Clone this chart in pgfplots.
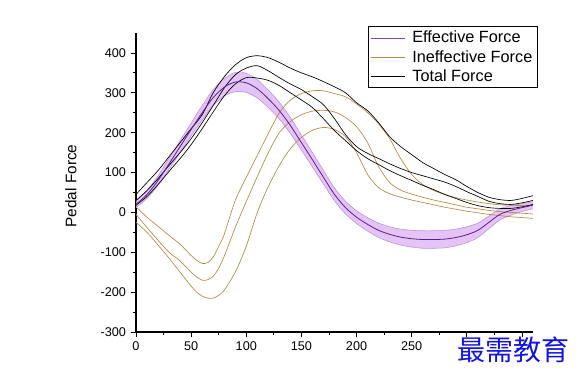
\documentclass[border=0pt]{standalone}
\usepackage{fontspec}
\setmainfont{Liberation Sans}
\newfontfamily\cjk{Noto Sans CJK SC}
\usepackage{pgfplots}
\pgfplotsset{compat=1.18}
\usepackage{pgfplotstable}

\definecolor{effline}{HTML}{5B1F8E}
\definecolor{effleg}{HTML}{8A3FC0}
\definecolor{effband}{HTML}{D9B0F0}
\definecolor{effedge}{HTML}{C28BE6}
\definecolor{ineff}{HTML}{B38A45}
\definecolor{wm}{HTML}{1414E0}

% Effective force: x, lower, mean, upper
\pgfplotstableread{
x elo emid ehi
0 12 20 28
10 35 45 55
20 68 80 92
30 108 122 136
40 150 165 180
50 192 208 224
60 232 250 268
70 268 288 308
80 292 314 336
90 303 327 351
100 301 325 349
110 287 310 333
120 263 285 307
130 234 255 276
140 198 218 238
150 156 175 194
160 114 132 150
170 71 88 105
180 29 45 61
190 -4 12 28
200 -28 -12 4
210 -47 -30 -13
220 -63 -45 -27
230 -74 -55 -36
240 -82 -62 -42
250 -87 -66 -45
260 -90 -68 -46
270 -90 -68 -46
280 -89 -67 -45
290 -84 -63 -42
300 -76 -56 -36
310 -63 -45 -27
320 -41 -25 -9
330 -19 -5 9
340 -7 5 17
350 2 12 22
360 9 18 27
}\efftable

% Effective band outline: upper edge forward, lower edge backward
\pgfplotstableread{
x y
0 28
10 55
20 92
30 136
40 180
50 224
60 268
70 308
80 336
90 351
100 349
110 333
120 307
130 276
140 238
150 194
160 150
170 105
180 61
190 28
200 4
210 -13
220 -27
230 -36
240 -42
250 -45
260 -46
270 -46
280 -45
290 -42
300 -36
310 -27
320 -9
330 9
340 17
350 22
360 27
360 9
350 2
340 -7
330 -19
320 -41
310 -63
300 -76
290 -84
280 -89
270 -90
260 -90
250 -87
240 -82
230 -74
220 -63
210 -47
200 -28
190 -4
180 29
170 71
160 114
150 156
140 198
130 234
120 263
110 287
100 301
90 303
80 292
70 268
60 232
50 192
40 150
30 108
20 68
10 35
0 12
}\bandtable

% Ineffective force: x, lower, mean, upper
\pgfplotstableread{
x ilo imid ihi
0 -25 -5 14
10 -50 -38 -12
20 -82 -70 -35
30 -115 -100 -58
40 -150 -122 -80
50 -185 -150 -108
55 -200 -162 -120
60 -210 -170 -128
65 -215 -169 -126
70 -215 -160 -112
75 -208 -140 -85
80 -195 -110 -55
90 -150 -38 30
100 -85 27 88
110 0 90 143
120 65 150 198
130 118 200 250
140 160 228 282
150 188 245 298
160 206 254 305
170 213 256 305
180 208 252 298
190 190 238 290
200 150 215 272
210 95 175 250
220 62 115 222
230 47 75 185
240 38 56 135
250 31 46 95
260 25 38 70
270 19 31 55
280 13 25 45
290 8 19 37
300 3 13 31
310 -1 9 26
320 -5 5 22
330 -8 2 19
340 -11 0 18
350 -13 -2 17
360 -15 -4 17
}\inefftable

% Total force: x, lower, mean, upper
\pgfplotstableread{
x tlo tmid thi
0 18 30 45
10 40 55 75
20 70 85 105
30 103 118 140
40 135 150 175
50 170 185 210
60 210 225 245
70 252 268 300
80 292 312 340
90 322 345 370
100 338 362 388
110 337 368 393
120 331 355 388
130 318 338 376
140 300 322 362
150 282 308 350
160 263 290 340
170 235 270 328
180 205 235 315
190 180 195 300
200 155 165 275
210 135 148 255
220 120 135 225
230 105 122 190
240 92 110 165
250 80 100 145
260 68 92 125
270 57 84 110
280 45 76 95
290 35 65 82
300 25 52 65
310 17 40 50
320 12 28 38
330 10 22 32
340 10 20 30
350 14 24 35
360 20 30 42
}\totaltable

\begin{document}
\begin{tikzpicture}
\path[use as bounding box] (0pt,0pt) rectangle (434.25pt,286.5pt);
\begin{axis}[
  at={(102pt,37.5pt)}, anchor=south west,
  scale only axis, width=297.75pt, height=224.25pt,
  xmin=0, xmax=360, ymin=-300, ymax=450,
  axis x line=bottom, axis y line=left,
  axis line style={-, line width=0.8pt, black},
  xtick={0,50,...,350}, ytick={-300,-200,...,400},
  xticklabels={0,50,100,150,200,250,{},{}},
  yticklabels={-300,-200,-100,0,100,200,300,400},
  minor x tick num=1, minor y tick num=1,
  tick align=outside, major tick length=4pt, minor tick length=2.5pt,
  tick style={black, line width=0.6pt},
  ticklabel style={font=\fontsize{9.5}{11}\selectfont},
  legend style={at={(0.584,1.023)}, anchor=north west, draw=black, line width=0.6pt,
    font=\fontsize{12.2}{13}\selectfont, inner sep=1.5pt, row sep=0pt,
    cells={anchor=west}},
  legend image code/.code={\draw[#1] (1pt,0pt) -- (27pt,0pt); \path (30pt,0pt);},
]
% Effective band
\addplot[fill=effband, fill opacity=0.75, draw=none, forget plot] table[x=x,y=y]{\bandtable} -- cycle;
\addplot[effedge, line width=0.4pt, smooth, forget plot] table[x=x,y=elo]{\efftable};
\addplot[effedge, line width=0.4pt, smooth, forget plot] table[x=x,y=ehi]{\efftable};
% Ineffective lines
\addplot[ineff, line width=0.5pt, smooth, forget plot] table[x=x,y=ilo]{\inefftable};
\addplot[ineff, line width=0.5pt, smooth, forget plot] table[x=x,y=imid]{\inefftable};
\addplot[ineff, line width=0.5pt, smooth, forget plot] table[x=x,y=ihi]{\inefftable};
% Total lines
\addplot[black, line width=0.5pt, smooth, forget plot] table[x=x,y=tlo]{\totaltable};
\addplot[black, line width=0.5pt, smooth, forget plot] table[x=x,y=tmid]{\totaltable};
\addplot[black, line width=0.5pt, smooth, forget plot] table[x=x,y=thi]{\totaltable};
% Effective mean
\addplot[effline, line width=0.6pt, smooth, forget plot] table[x=x,y=emid]{\efftable};
% Legend
\addlegendimage{effleg, line width=0.6pt}
\addlegendentry{Effective Force}
\addlegendimage{ineff, line width=0.6pt}
\addlegendentry{Ineffective Force}
\addlegendimage{black, line width=0.6pt}
\addlegendentry{Total Force}
\end{axis}
\node[rotate=90, font=\fontsize{11.5}{13}\selectfont] at (53.25pt,147pt) {Pedal Force};
\node[font=\cjk\fontsize{21}{22}\selectfont, text=wm] at (384.75pt,24pt) {最需教育};
\end{tikzpicture}
\end{document}
